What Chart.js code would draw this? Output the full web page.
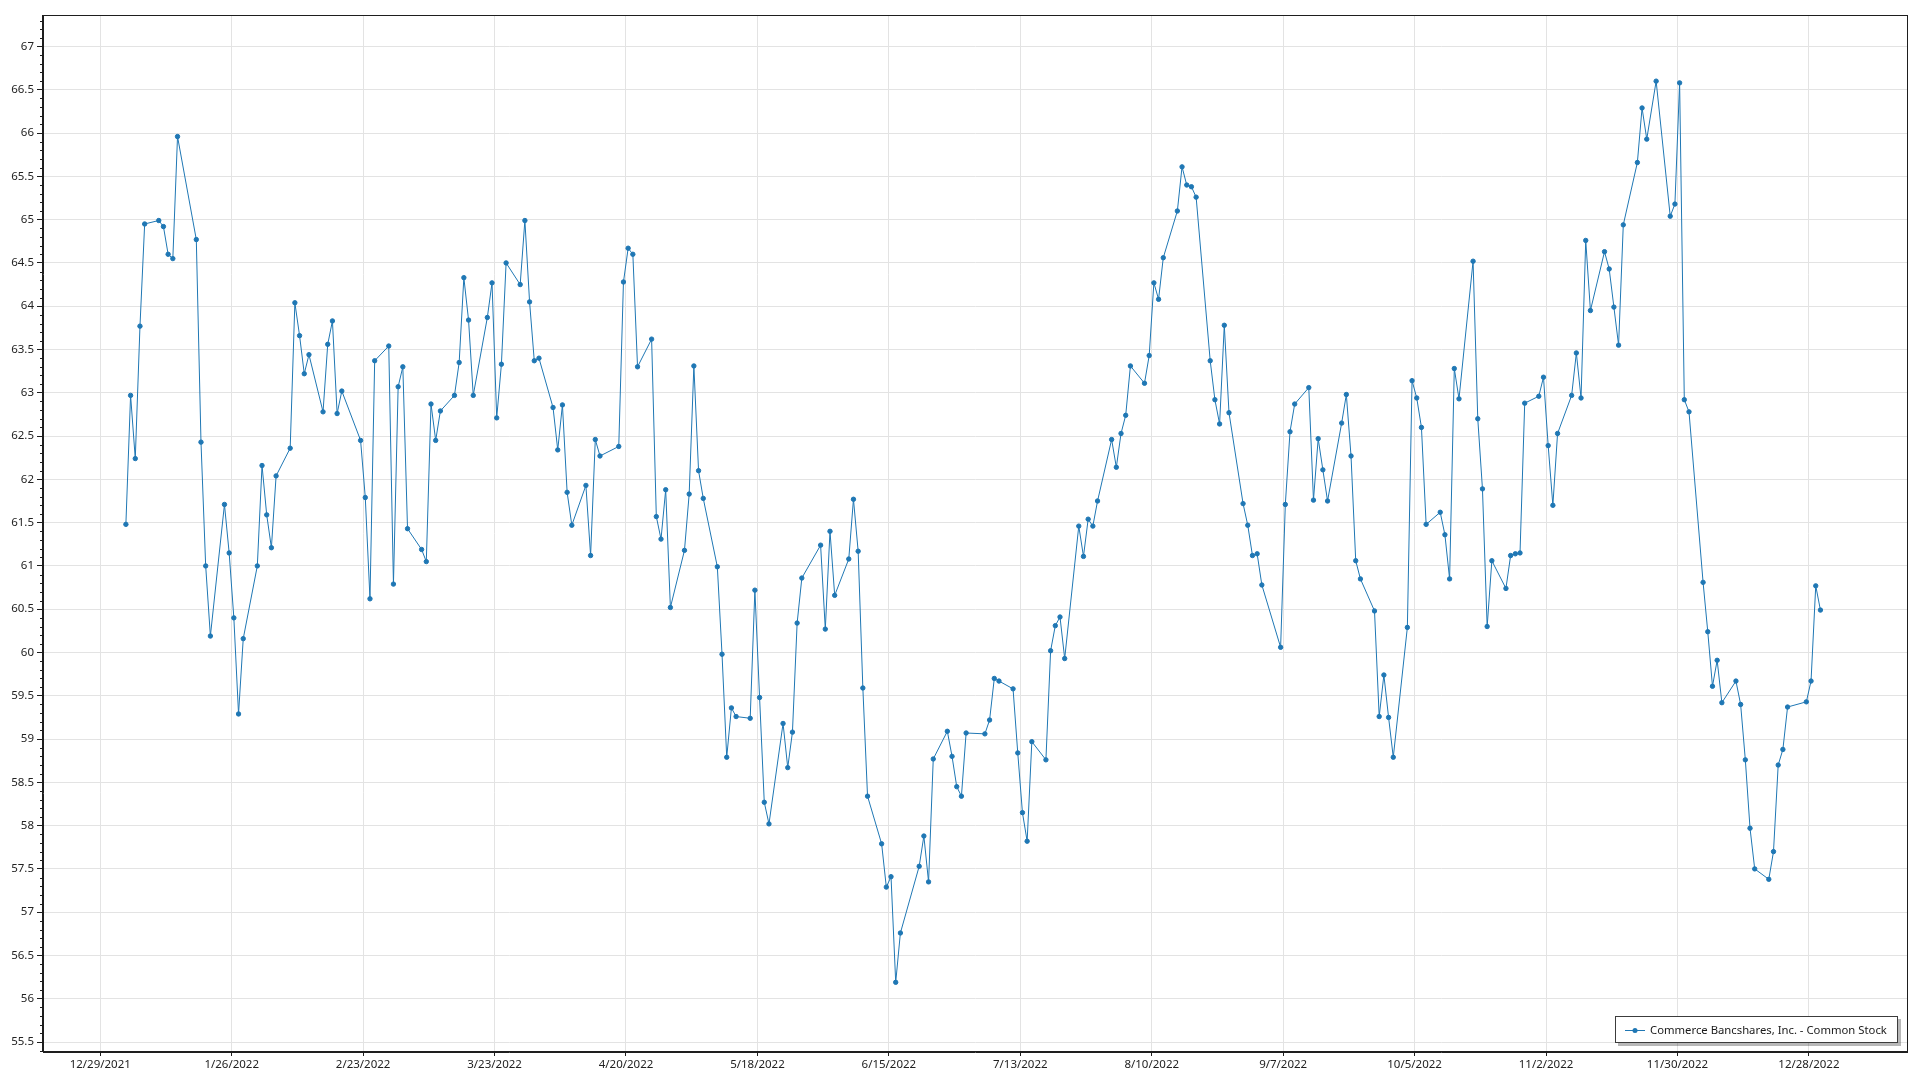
<!DOCTYPE html>
<html>
<head>
<meta charset="utf-8">
<title>Commerce Bancshares, Inc. - Common Stock</title>
<script src="https://cdn.jsdelivr.net/npm/chart.js@4.4.1/dist/chart.umd.min.js"></script>
<style>
  html, body { margin: 0; padding: 0; background: #ffffff; }
  #wrap { width: 1920px; height: 1080px; }
</style>
</head>
<body>
<div id="wrap"><canvas id="stockChart" width="1920" height="1080"></canvas></div>
<script>
'use strict';

// trading days of 2022 (month/day)
let dates = [
  '1/3', '1/4', '1/5', '1/6', '1/7', '1/10', '1/11', '1/12', '1/13', '1/14', '1/18', '1/19', '1/20', '1/21', '1/24', '1/25', '1/26', '1/27', '1/28', '1/31',
  '2/1', '2/2', '2/3', '2/4', '2/7', '2/8', '2/9', '2/10', '2/11', '2/14', '2/15', '2/16', '2/17', '2/18', '2/22', '2/23', '2/24', '2/25', '2/28',
  '3/1', '3/2', '3/3', '3/4', '3/7', '3/8', '3/9', '3/10', '3/11', '3/14', '3/15', '3/16', '3/17', '3/18', '3/21', '3/22', '3/23', '3/24', '3/25', '3/28', '3/29', '3/30', '3/31',
  '4/1', '4/4', '4/5', '4/6', '4/7', '4/8', '4/11', '4/12', '4/13', '4/14', '4/18', '4/19', '4/20', '4/21', '4/22', '4/25', '4/26', '4/27', '4/28', '4/29',
  '5/2', '5/3', '5/4', '5/5', '5/6', '5/9', '5/10', '5/11', '5/12', '5/13', '5/16', '5/17', '5/18', '5/19', '5/20', '5/23', '5/24', '5/25', '5/26', '5/27', '5/31',
  '6/1', '6/2', '6/3', '6/6', '6/7', '6/8', '6/9', '6/10', '6/13', '6/14', '6/15', '6/16', '6/17', '6/21', '6/22', '6/23', '6/24', '6/27', '6/28', '6/29', '6/30',
  '7/1', '7/5', '7/6', '7/7', '7/8', '7/11', '7/12', '7/13', '7/14', '7/15', '7/18', '7/19', '7/20', '7/21', '7/22', '7/25', '7/26', '7/27', '7/28', '7/29',
  '8/1', '8/2', '8/3', '8/4', '8/5', '8/8', '8/9', '8/10', '8/11', '8/12', '8/15', '8/16', '8/17', '8/18', '8/19', '8/22', '8/23', '8/24', '8/25', '8/26', '8/29', '8/30', '8/31',
  '9/1', '9/2', '9/6', '9/7', '9/8', '9/9', '9/12', '9/13', '9/14', '9/15', '9/16', '9/19', '9/20', '9/21', '9/22', '9/23', '9/26', '9/27', '9/28', '9/29', '9/30',
  '10/3', '10/4', '10/5', '10/6', '10/7', '10/10', '10/11', '10/12', '10/13', '10/14', '10/17', '10/18', '10/19', '10/20', '10/21', '10/24', '10/25', '10/26', '10/27', '10/28', '10/31',
  '11/1', '11/2', '11/3', '11/4', '11/7', '11/8', '11/9', '11/10', '11/11', '11/14', '11/15', '11/16', '11/17', '11/18', '11/21', '11/22', '11/23', '11/25', '11/28', '11/29', '11/30',
  '12/1', '12/2', '12/5', '12/6', '12/7', '12/8', '12/9', '12/12', '12/13', '12/14', '12/15', '12/16', '12/19', '12/20', '12/21', '12/22', '12/23', '12/27', '12/28', '12/29', '12/30'
];

// closing prices, one row per month
let closes = [
  61.48, 62.97, 62.24, 63.77, 64.95, 64.99, 64.92, 64.60, 64.55, 65.96, 64.77, 62.43, 61.00, 60.19, 61.71, 61.15, 60.40, 59.29, 60.16, 61.00,
  62.16, 61.59, 61.21, 62.04, 62.36, 64.04, 63.66, 63.22, 63.44, 62.78, 63.56, 63.83, 62.76, 63.02, 62.45, 61.79, 60.62, 63.37, 63.54,
  60.79, 63.07, 63.30, 61.43, 61.19, 61.05, 62.87, 62.45, 62.79, 62.97, 63.35, 64.33, 63.84, 62.97, 63.87, 64.27, 62.71, 63.33, 64.50, 64.25, 64.99, 64.05, 63.37,
  63.40, 62.83, 62.34, 62.86, 61.85, 61.47, 61.93, 61.12, 62.46, 62.27, 62.38, 64.28, 64.67, 64.60, 63.30, 63.62, 61.57, 61.31, 61.88, 60.52,
  61.18, 61.83, 63.31, 62.10, 61.78, 60.99, 59.98, 58.79, 59.36, 59.26, 59.24, 60.72, 59.48, 58.27, 58.02, 59.18, 58.67, 59.08, 60.34, 60.86, 61.24,
  60.27, 61.40, 60.66, 61.08, 61.77, 61.17, 59.59, 58.34, 57.79, 57.29, 57.41, 56.19, 56.76, 57.53, 57.88, 57.35, 58.77, 59.09, 58.80, 58.45, 58.34,
  59.07, 59.06, 59.22, 59.70, 59.67, 59.58, 58.84, 58.15, 57.82, 58.97, 58.76, 60.02, 60.31, 60.41, 59.93, 61.46, 61.11, 61.54, 61.46, 61.75,
  62.46, 62.14, 62.53, 62.74, 63.31, 63.11, 63.43, 64.27, 64.08, 64.56, 65.10, 65.61, 65.40, 65.38, 65.26, 63.37, 62.92, 62.64, 63.78, 62.77, 61.72, 61.47, 61.12,
  61.14, 60.78, 60.06, 61.71, 62.55, 62.87, 63.06, 61.76, 62.47, 62.11, 61.75, 62.65, 62.98, 62.27, 61.06, 60.85, 60.48, 59.26, 59.74, 59.25, 58.79,
  60.29, 63.14, 62.94, 62.60, 61.48, 61.62, 61.36, 60.85, 63.28, 62.93, 64.52, 62.70, 61.89, 60.30, 61.06, 60.74, 61.12, 61.14, 61.15, 62.88, 62.96,
  63.18, 62.39, 61.70, 62.53, 62.97, 63.46, 62.94, 64.76, 63.95, 64.63, 64.43, 63.99, 63.55, 64.94, 65.66, 66.29, 65.93, 66.60, 65.04, 65.18, 66.58,
  62.92, 62.78, 60.81, 60.24, 59.61, 59.91, 59.42, 59.67, 59.40, 58.76, 57.97, 57.50, 57.38, 57.70, 58.70, 58.88, 59.37, 59.43, 59.67, 60.77, 60.49
];

let seriesName = 'Commerce Bancshares, Inc. - Common Stock';

let xTickLabels = ['12/29/2021', '1/26/2022', '2/23/2022', '3/23/2022', '4/20/2022', '5/18/2022', '6/15/2022',
  '7/13/2022', '8/10/2022', '9/7/2022', '10/5/2022', '11/2/2022', '11/30/2022', '12/28/2022'];

let yTickValues = [55.5, 56, 56.5, 57, 57.5, 58, 58.5, 59, 59.5, 60, 60.5, 61, 61.5, 62, 62.5, 63,
  63.5, 64, 64.5, 65, 65.5, 66, 66.5, 67];

let baseDay = Date.UTC(2021, 11, 29);
// quotes are stamped late morning, not at midnight
let quoteHour = 11;
let fontFamily = '"Segoe UI", "Noto Sans", sans-serif';

function dayNumber(m, d, y) {
  return (Date.UTC(y, m - 1, d) - baseDay) / 86400000;
}

function parseFull(label) {
  let p = label.split('/').map(Number);
  return dayNumber(p[0], p[1], p[2]);
}

let tickByDay = {};
xTickLabels.forEach(function (label) {
  tickByDay[parseFull(label)] = label;
});

let points = dates.map(function (md, i) {
  let p = md.split('/').map(Number);
  return { x: dayNumber(p[0], p[1], 2022) + quoteHour / 24, y: closes[i] };
});

// frame, minor y ticks and the boxed legend
let decorations = {
  id: 'decorations',
  afterDraw: function (chart) {
    let ctx = chart.ctx;
    let area = chart.chartArea;
    let yScale = chart.scales.y;

    ctx.save();
    ctx.strokeStyle = '#1e1e1e';
    ctx.lineWidth = 1;
    ctx.strokeRect(Math.round(area.left) - 0.5, Math.round(area.top) + 0.5,
      Math.round(area.right - area.left) + 1, Math.round(area.bottom - area.top) - 1);

    ctx.beginPath();
    for (let k = 554; k <= 673; k++) {
      if (k % 5 === 0) continue;
      let py = Math.round(yScale.getPixelForValue(k / 10)) + 0.5;
      ctx.moveTo(area.left - 3, py);
      ctx.lineTo(area.left, py);
    }
    ctx.stroke();

    let label = chart.data.datasets[0].label;
    ctx.font = '11.3px ' + fontFamily;
    let textW = ctx.measureText(label).width;
    let w = Math.round(35 + textW + 11);
    let h = 27;
    let x = Math.round(area.right - 9 - w);
    let y = Math.round(area.bottom - 9 - h);

    ctx.fillStyle = 'rgba(0,0,0,0.28)';
    ctx.fillRect(x + 3, y + 3, w, h);
    ctx.fillStyle = '#ffffff';
    ctx.fillRect(x, y, w, h);
    ctx.strokeStyle = '#3c3c3c';
    ctx.strokeRect(x + 0.5, y + 0.5, w - 1, h - 1);

    let my = y + Math.round(h / 2) + 0.5;
    ctx.strokeStyle = '#1f77b4';
    ctx.beginPath();
    ctx.moveTo(x + 10, my);
    ctx.lineTo(x + 30, my);
    ctx.stroke();
    ctx.fillStyle = '#1f77b4';
    ctx.beginPath();
    ctx.arc(x + 20, my, 2.5, 0, Math.PI * 2);
    ctx.fill();

    ctx.fillStyle = '#1a1a1a';
    ctx.textBaseline = 'middle';
    ctx.fillText(label, x + 35, my);
    ctx.restore();
  }
};

let ctx = document.getElementById('stockChart').getContext('2d');

new Chart(ctx, {
  type: 'line',
  data: {
    datasets: [{
      label: seriesName,
      data: points,
      borderColor: '#1f77b4',
      backgroundColor: '#1f77b4',
      borderWidth: 1,
      tension: 0,
      pointRadius: 2.2,
      pointBorderWidth: 1,
      pointBackgroundColor: '#1f77b4',
      pointBorderColor: '#1f77b4'
    }]
  },
  options: {
    responsive: false,
    animation: false,
    devicePixelRatio: 1,
    layout: { padding: { top: 15, right: 13, left: 0, bottom: 0 } },
    plugins: {
      legend: { display: false },
      tooltip: { enabled: false }
    },
    scales: {
      x: {
        type: 'linear',
        min: -12.2,
        max: 384.9,
        afterBuildTicks: function (scale) {
          scale.ticks = xTickLabels.map(function (l) { return { value: parseFull(l) }; });
        },
        afterFit: function (scale) { scale.height = 28; },
        grid: { color: '#e3e3e3', tickColor: '#1e1e1e', tickLength: 4, drawOnChartArea: true },
        border: { color: '#1e1e1e' },
        ticks: {
          autoSkip: false,
          maxRotation: 0,
          padding: 2,
          color: '#222222',
          font: { family: fontFamily, size: 11.5 },
          callback: function (value) { return tickByDay[value] || ''; }
        }
      },
      y: {
        type: 'linear',
        min: 55.385,
        max: 67.364,
        afterBuildTicks: function (scale) {
          scale.ticks = yTickValues.map(function (v) { return { value: v }; });
        },
        afterFit: function (scale) { scale.width = 43; },
        grid: { color: '#e3e3e3', tickColor: '#1e1e1e', tickLength: 6 },
        border: { color: '#1e1e1e' },
        ticks: {
          padding: 3,
          color: '#222222',
          font: { family: fontFamily, size: 11.5 },
          callback: function (value) { return String(value); }
        }
      }
    }
  },
  plugins: [decorations]
});
</script>
</body>
</html>
